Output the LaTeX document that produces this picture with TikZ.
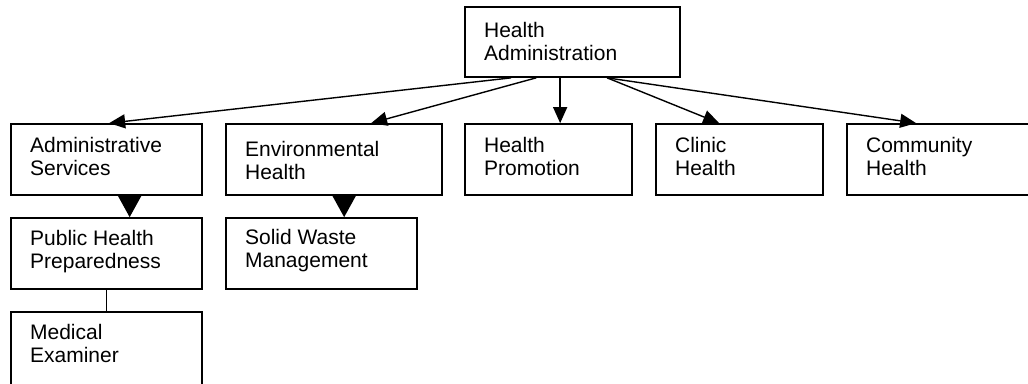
\documentclass[tikz,border=0pt]{standalone}
\usepackage{fontspec}
\setmainfont{Liberation Sans}
\usetikzlibrary{calc,arrows.meta}
\tikzset{
  box/.style={draw=black, line width=1.7pt, rectangle, inner sep=0pt, fill=white},
  txt/.style={anchor=north west, inner sep=0pt, outer sep=0pt, align=left,
    font=\fontsize{21}{23}\selectfont},
  arr/.style={line width=1.4pt, -{Triangle[length=16pt,width=14pt]}},
  bigarr/.style={line width=1.4pt, -{Triangle[length=23pt,width=25pt]}},
  plain/.style={line width=1.4pt}
}
\begin{document}
\begin{tikzpicture}[x=1pt,y=-1pt]
\useasboundingbox (0,0) rectangle (1028,383);
\begin{scope}
\clip (0,0) rectangle (1028,383);
% boxes
\node[box, minimum width=215pt, minimum height=70pt] (ha) at (572.5,42) {};
\node[box, minimum width=191pt, minimum height=71pt] (admin) at (106.5,159.5) {};
\node[box, minimum width=216pt, minimum height=71pt] (env) at (334,159.5) {};
\node[box, minimum width=167pt, minimum height=71pt] (promo) at (548.5,159.5) {};
\node[box, minimum width=167pt, minimum height=71pt] (clinic) at (739.5,159.5) {};
\node[box, minimum width=190pt, minimum height=71pt] (comm) at (942,159.5) {};
\node[box, minimum width=191pt, minimum height=71pt] (public) at (106.5,253.5) {};
\node[box, minimum width=191pt, minimum height=71pt] (solid) at (321.5,253.5) {};
\node[box, minimum width=191pt, minimum height=80pt] (medical) at (106.5,352) {};
% texts
\node[txt] (haT) at ($(ha.north west)+(20,16)$) {Health\\Administration};
\node[txt] (adminT) at ($(admin.north west)+(20,14)$) {Administrative\\Services};
\node[txt] (envT) at ($(env.north west)+(20,18)$) {Environmental\\Health};
\node[txt] (promoT) at ($(promo.north west)+(20,14)$) {Health\\Promotion};
\node[txt] (clinicT) at ($(clinic.north west)+(20,14)$) {Clinic\\Health};
\node[txt] (commT) at ($(comm.north west)+(20,14)$) {Community\\Health};
\node[txt] (publicT) at ($(public.north west)+(20,13)$) {Public Health\\Preparedness};
\node[txt] (solidT) at ($(solid.north west)+(20,12)$) {Solid Waste\\Management};
\node[txt] (medicalT) at ($(medical.north west)+(20,13)$) {Medical\\Examiner};
% connectors
\draw[arr] ($(ha.south west)+(47,0)$) -- ($(admin.north west)+(99,0)$);
\draw[arr] ($(ha.south west)+(72,0)$) -- ($(env.north west)+(146,0)$);
\draw[arr] ($(ha.south west)+(96,0)$) -- ($(promo.north west)+(96,0)$);
\draw[arr] ($(ha.south west)+(143,0)$) -- ($(clinic.north west)+(64,0)$);
\draw[arr] ($(ha.south west)+(143,0)$) -- ($(comm.north west)+(70,0)$);
\draw[bigarr] ($(admin.south west)+(119.5,0)$) -- ($(public.north west)+(119.5,0)$);
\draw[bigarr] ($(env.south west)+(119,0)$) -- ($(solid.north west)+(119,0)$);
\draw[plain] (public.south) -- (medical.north);
\end{scope}
\end{tikzpicture}
\end{document}
